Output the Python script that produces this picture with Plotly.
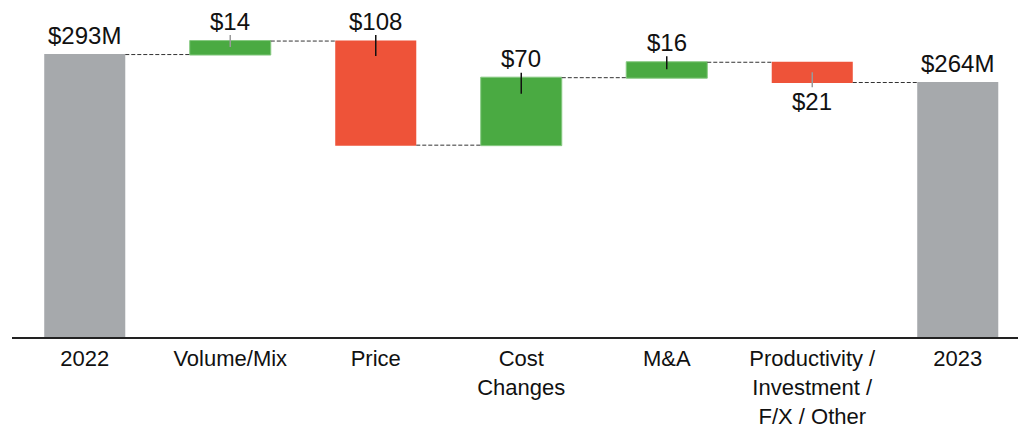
import plotly.graph_objects as go

categories = ["2022", "Volume/Mix", "Price", "Cost<br>Changes", "M&A",
              "Productivity /<br>Investment /<br>F/X / Other", "2023"]
measures = ["absolute", "relative", "relative", "relative", "relative", "relative", "total"]
values = [293, 14, -108, 70, 16, -21, 0]
value_labels = ["$293M", "$14", "$108", "$70", "$16", "$21", "$264M"]
label_side = ["above", "above", "above", "above", "above", "below", "above"]

# leader line offsets (pixels relative to the bar top) and colours
leader_px = [None, (6, -6), (6, -15), (5, -16), (6, -7), (-10, -25), None]
leader_col = [None, "#9a9a9a", "#111111", "#111111", "#111111", "#9a9a9a", None]

GREEN = "#4AAA42"
RED = "#EE5339"
GRAY = "#A6A9AC"
FONT = "Liberation Sans, Arial, sans-serif"
FS_VAL = 24
FS_TICK = 22

# running totals
tops, bottoms = [], []
run = 0
for m, v in zip(measures, values):
    if m == "absolute":
        start, run = 0, v
    elif m == "total":
        start = 0
    else:
        start, run = run, run + v
    end = run
    tops.append(max(start, end))
    bottoms.append(min(start, end))

fig = go.Figure(go.Waterfall(
    x=categories,
    y=values,
    measure=measures,
    width=0.557,
    increasing=dict(marker=dict(color=GREEN, line=dict(color="#86c980", width=1))),
    decreasing=dict(marker=dict(color=RED, line=dict(color=RED, width=0))),
    totals=dict(marker=dict(color=GRAY, line=dict(color=GRAY, width=0))),
    connector=dict(mode="between", line=dict(color="#333333", width=1, dash="4px,2px")),
    hoverinfo="skip",
))

for i, (lab, side) in enumerate(zip(value_labels, label_side)):
    if side == "above":
        fig.add_annotation(x=i, y=tops[i], text=lab, showarrow=False,
                           yanchor="bottom", yshift=4,
                           font=dict(family=FONT, size=FS_VAL, color="#111111"))
    else:
        fig.add_annotation(x=i, y=bottoms[i], text=lab, showarrow=False,
                           yanchor="top", yshift=-3,
                           font=dict(family=FONT, size=FS_VAL, color="#111111"))
    if leader_px[i] is not None:
        y0, y1 = leader_px[i]
        fig.add_shape(type="line", xref="x", yref="y", x0=i, x1=i,
                      ysizemode="pixel", yanchor=tops[i], y0=y0, y1=y1,
                      line=dict(color=leader_col[i], width=1.5))

fig.update_layout(
    width=1018, height=429,
    margin=dict(l=12, r=0, t=0, b=92),
    plot_bgcolor="white", paper_bgcolor="white",
    showlegend=False,
    font=dict(family=FONT, size=FS_TICK, color="#111111"),
)
fig.update_xaxes(
    type="category",
    automargin=False,
    range=[-0.5, -0.5 + 1006 / 145.5],
    showline=True, linecolor="#222222", linewidth=2,
    ticks="outside", ticklen=1, tickcolor="rgba(0,0,0,0)",
    showgrid=False, zeroline=False,
    tickfont=dict(family=FONT, size=FS_TICK, color="#111111"),
)
fig.update_yaxes(visible=False, automargin=False, range=[0, 337 / 0.964],
                 showgrid=False, zeroline=False)

fig.write_html("out.html", config={"displayModeBar": False},
               post_script="document.body.style.margin='0';")
